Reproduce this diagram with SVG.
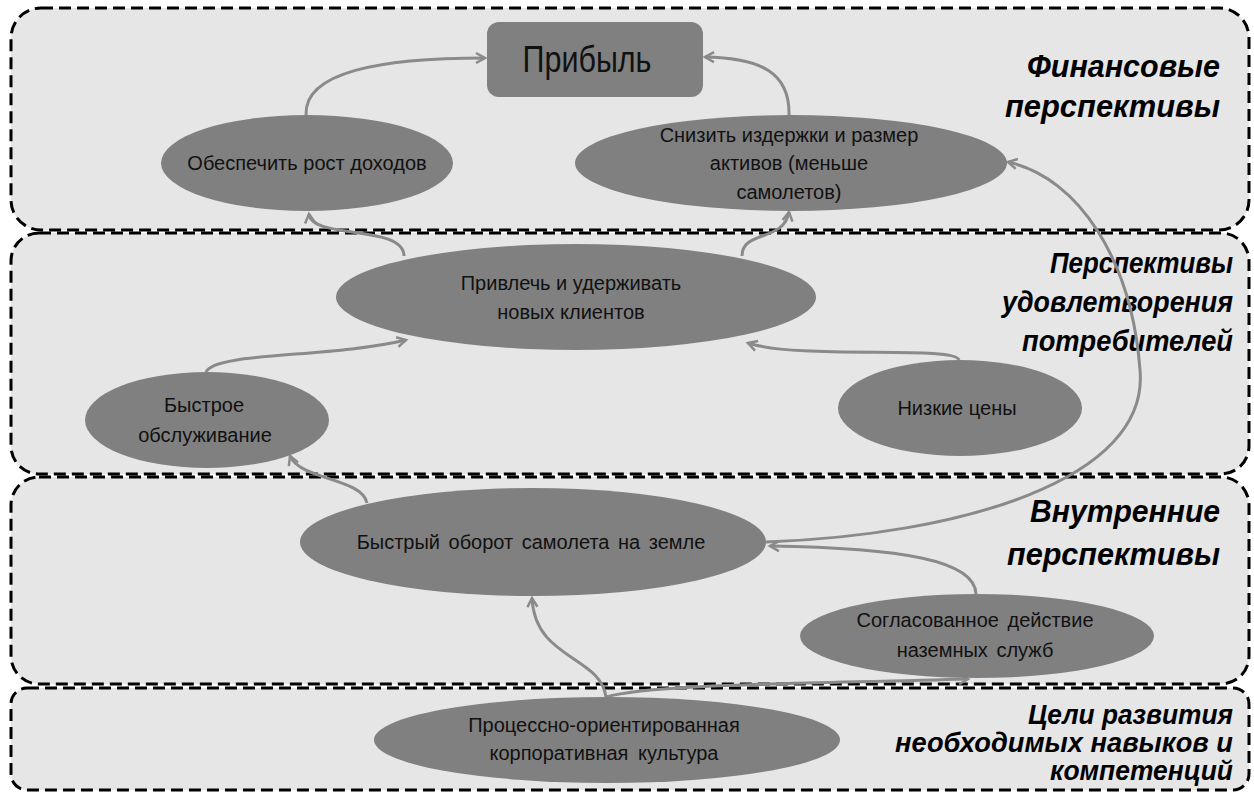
<svg xmlns="http://www.w3.org/2000/svg" width="1254" height="793" viewBox="0 0 1254 793">
  <style>
    .panel { fill: #e6e6e6; stroke: #000; stroke-width: 3; stroke-dasharray: 12 6; }
    .node { fill: #808080; }
    .ntext { font-family: "Liberation Sans", Arial, sans-serif; font-size: 20px; fill: #111; text-anchor: middle; }
    .big { font-size: 37px; }
    .title { font-family: "Liberation Sans", Arial, sans-serif; font-weight: bold; font-style: italic; fill: #000; text-anchor: end; }
    .t30 { font-size: 32px; }
    .t28 { font-size: 29.5px; }
    .t27 { font-size: 27.5px; }
    .edge { fill: none; stroke: #8a8a8a; stroke-width: 3; marker-end: url(#arrow); }
  </style>
  <defs>
    <marker id="arrow" markerUnits="userSpaceOnUse" markerWidth="14" markerHeight="14" viewBox="-11 -7 14 14" refX="0" refY="0" orient="auto">
      <path d="M-9,-5 L0,0 L-9,5" fill="none" stroke="#8a8a8a" stroke-width="2.5"/>
    </marker>
  </defs>

  <!-- perspective bands -->
  <g id="bands">
    <rect id="band-finance" class="panel" x="11" y="8" width="1238" height="222" rx="30"/>
    <rect id="band-customer" class="panel" x="11" y="233" width="1238" height="241" rx="28"/>
    <rect id="band-internal" class="panel" x="11" y="477" width="1238" height="207" rx="28"/>
    <rect id="band-learning" class="panel" x="11" y="688" width="1238" height="102" rx="16"/>
  </g>

  <!-- band titles -->
  <g id="titles">
    <text class="title t30" x="1220" y="77" textLength="193" lengthAdjust="spacingAndGlyphs">Финансовые</text>
    <text class="title t30" x="1220" y="117" textLength="215" lengthAdjust="spacingAndGlyphs">перспективы</text>
    <text class="title t28" x="1233" y="273" textLength="183" lengthAdjust="spacingAndGlyphs">Перспективы</text>
    <text class="title t28" x="1233" y="312" textLength="231" lengthAdjust="spacingAndGlyphs">удовлетворения</text>
    <text class="title t28" x="1233" y="351" textLength="211" lengthAdjust="spacingAndGlyphs">потребителей</text>
    <text class="title t30" x="1220" y="522" textLength="190" lengthAdjust="spacingAndGlyphs">Внутренние</text>
    <text class="title t30" x="1220" y="565" textLength="213" lengthAdjust="spacingAndGlyphs">перспективы</text>
    <text class="title t27" x="1233" y="724" textLength="205" lengthAdjust="spacingAndGlyphs">Цели развития</text>
    <text class="title t27" x="1233" y="752" textLength="338" lengthAdjust="spacingAndGlyphs">необходимых навыков и</text>
    <text class="title t27" x="1233" y="780" textLength="183" lengthAdjust="spacingAndGlyphs">компетенций</text>
  </g>

  <!-- connectors -->
  <g id="connectors">
    <path class="edge" d="M306,115 C304,72 380,58 485,58"/>
    <path class="edge" d="M789,115 C790,72 760,58 705,57"/>
    <path class="edge" d="M404,256 C404,224 312,240 309,214"/>
    <path class="edge" d="M742,256 C742,230 784,242 789,212"/>
    <path class="edge" d="M206,372 C215,352 330,358 406,340"/>
    <path class="edge" d="M959,360 C955,345 800,360 748,343"/>
    <path class="edge" d="M367,503 C362,478 300,480 290,456"/>
    <path class="edge" d="M766,542 C960,535 1150,480 1140,370 C1132,262 1080,178 1008,162"/>
    <path class="edge" d="M976,594 C975,560 900,548 770,546"/>
    <path class="edge" d="M606,697 C600,655 535,660 532,598"/>
    <path class="edge" d="M606,697 C650,684 800,684 968,679"/>
  </g>

  <!-- goals -->
  <g id="profit">
    <rect class="node" x="487" y="22" width="216" height="75" rx="12"/>
    <text class="ntext big" x="587" y="72" textLength="129" lengthAdjust="spacingAndGlyphs">Прибыль</text>
  </g>
  <g id="revenue-growth">
    <ellipse class="node" cx="307" cy="163" rx="146" ry="48"/>
    <text class="ntext" x="307" y="170">Обеспечить рост доходов</text>
  </g>
  <g id="cut-costs">
    <ellipse class="node" cx="791" cy="163" rx="216" ry="48"/>
    <text class="ntext"><tspan x="789" y="142">Снизить издержки и размер</tspan><tspan x="789" y="170">активов (меньше</tspan><tspan x="789" y="199">самолетов)</tspan></text>
  </g>
  <g id="attract-clients">
    <ellipse class="node" cx="576" cy="297" rx="240" ry="53"/>
    <text class="ntext"><tspan x="571" y="290">Привлечь и удерживать</tspan><tspan x="571" y="319">новых клиентов</tspan></text>
  </g>
  <g id="fast-service">
    <ellipse class="node" cx="207" cy="420" rx="122" ry="48"/>
    <text class="ntext"><tspan x="204" y="412">Быстрое</tspan><tspan x="205" y="442">обслуживание</tspan></text>
  </g>
  <g id="low-prices">
    <ellipse class="node" cx="960" cy="408" rx="122" ry="48"/>
    <text class="ntext" x="957" y="415">Низкие цены</text>
  </g>
  <g id="fast-turnaround">
    <ellipse class="node" cx="533" cy="542" rx="233" ry="54"/>
    <text class="ntext" x="531" y="549" word-spacing="3">Быстрый оборот самолета на земле</text>
  </g>
  <g id="ground-crew">
    <ellipse class="node" cx="977" cy="636" rx="177" ry="42"/>
    <text class="ntext" word-spacing="3"><tspan x="975" y="627">Согласованное действие</tspan><tspan x="975" y="657">наземных служб</tspan></text>
  </g>
  <g id="process-culture">
    <ellipse class="node" cx="607" cy="740" rx="233" ry="43"/>
    <text class="ntext" word-spacing="4"><tspan x="604" y="732">Процессно-ориентированная</tspan><tspan x="604" y="760">корпоративная культура</tspan></text>
  </g>
</svg>
